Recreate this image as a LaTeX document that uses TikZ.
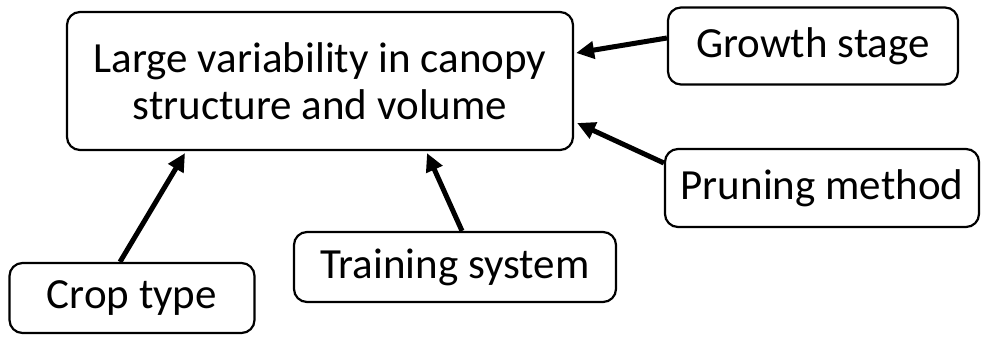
\documentclass[tikz,border=0pt]{standalone}
\usepackage{fontspec}
\setmainfont{Carlito}
\usetikzlibrary{arrows.meta,calc}
\begin{document}
\begin{tikzpicture}[x=1pt,y=-1pt,
  box/.style={draw=black,line width=2.2pt,rounded corners=13pt,fill=white,align=center,
    font=\fontsize{43}{47}\selectfont,inner sep=0pt},
  arr/.style={line width=5pt,-{Triangle[length=18pt,width=17pt]}}]
\useasboundingbox[fill=white] (0,0) rectangle (990,343);
\node[box,minimum width=506pt,minimum height=138pt] (main) at (320,81) {Large variability in canopy\\structure and volume};
\node[box,minimum width=290pt,minimum height=77pt] (growth) at (813,46) {Growth stage};
\node[box,minimum width=314pt,minimum height=78pt] (pruning) at (822,188) {Pruning method};
\node[box,minimum width=322pt,minimum height=70pt] (training) at (455,267) {Training system};
\node[box,minimum width=245pt,minimum height=70pt] (crop) at (132,298) {Crop type};
\draw[arr] ([yshift=8pt]growth.west) -- ([yshift=28pt,xshift=2pt]main.east);
\draw[arr] ([yshift=25pt]pruning.west) -- ([yshift=-42pt,xshift=3pt]main.east);
\draw[arr] ([xshift=7pt]training.north) -- ([xshift=107pt,yshift=-2pt]main.south);
\draw[arr] ([xshift=-12pt]crop.north) -- ([xshift=-135pt,yshift=-2pt]main.south);
\end{tikzpicture}
\end{document}
